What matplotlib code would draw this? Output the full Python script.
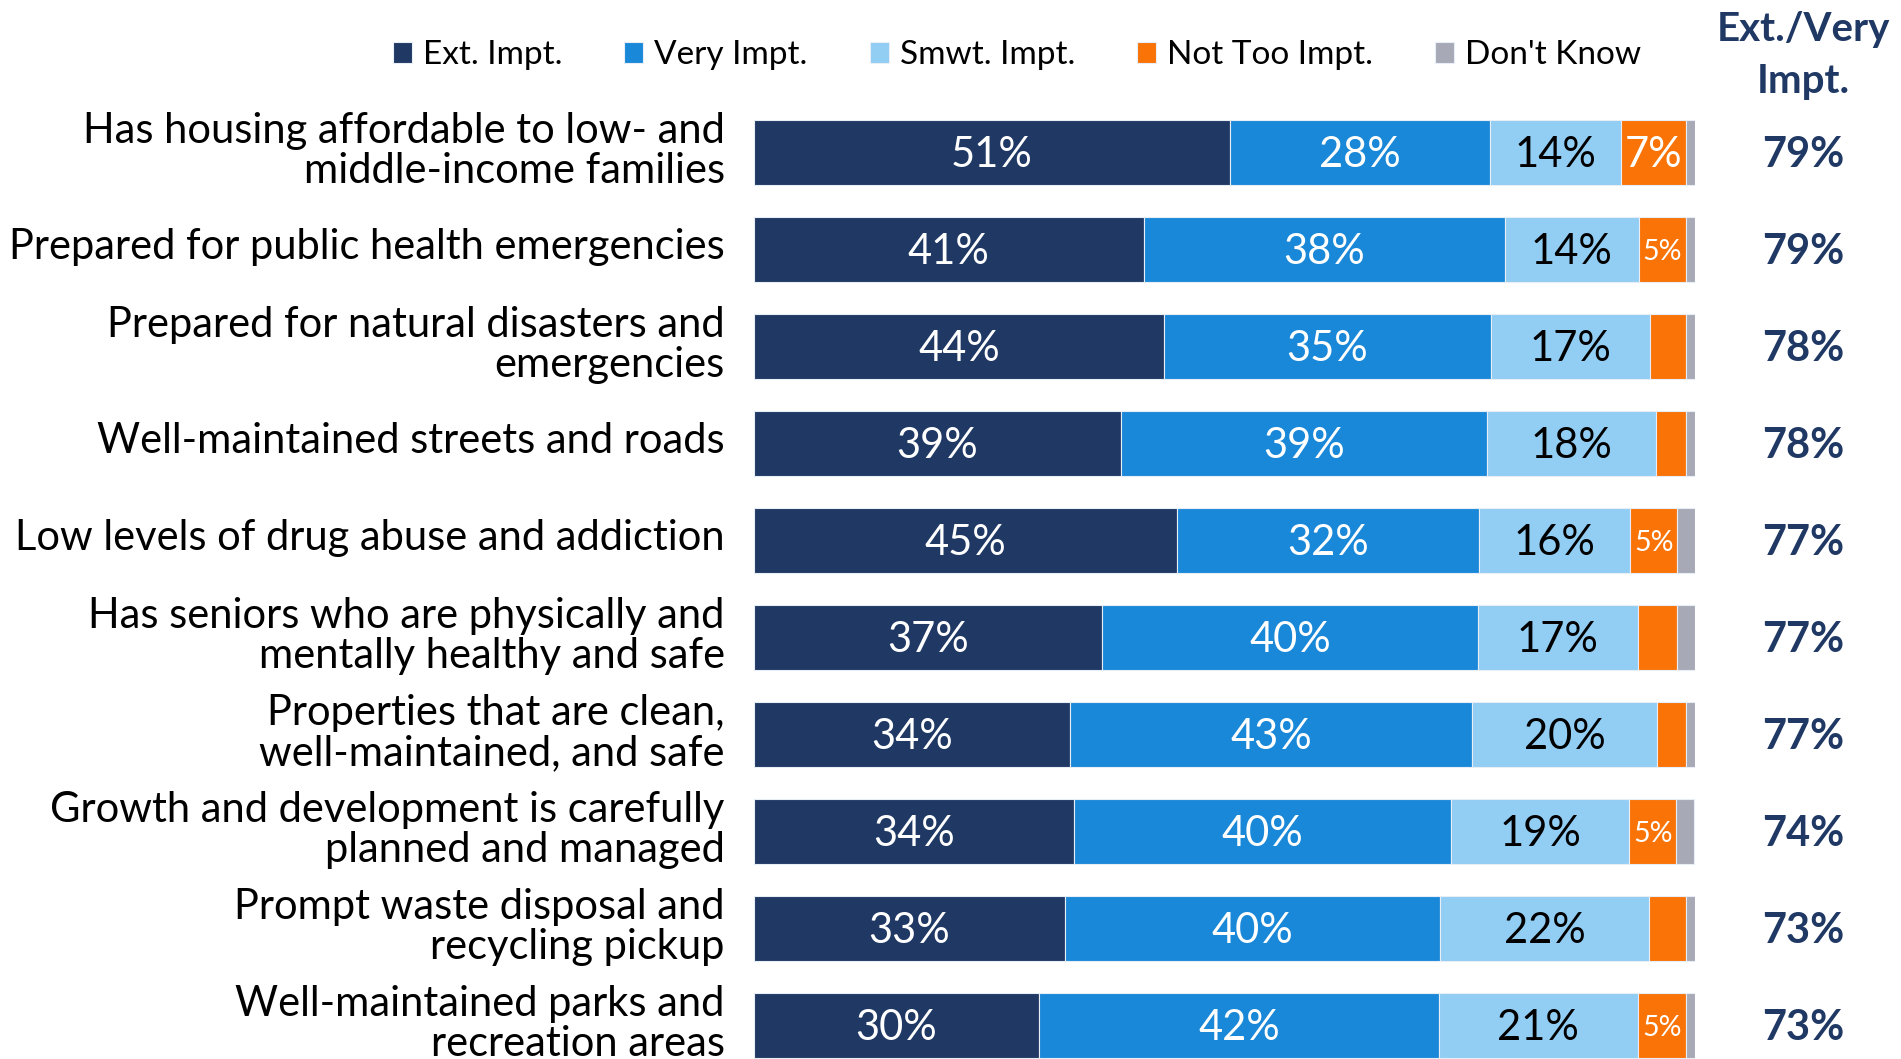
import matplotlib.pyplot as plt
from matplotlib.transforms import ScaledTranslation

plt.rcParams['font.family'] = ['Lato', 'DejaVu Sans']

items = [
    "Has housing affordable to low- and\nmiddle-income families",
    "Prepared for public health emergencies",
    "Prepared for natural disasters and\nemergencies",
    "Well-maintained streets and roads",
    "Low levels of drug abuse and addiction",
    "Has seniors who are physically and\nmentally healthy and safe",
    "Properties that are clean,\nwell-maintained, and safe",
    "Growth and development is carefully\nplanned and managed",
    "Prompt waste disposal and\nrecycling pickup",
    "Well-maintained parks and\nrecreation areas",
]

ext_impt = [50.6, 41.4, 43.6, 39.0, 45.0, 37.0, 33.6, 34.0, 33.0, 30.3]
very_impt = [27.6, 38.4, 34.7, 38.9, 32.0, 39.9, 42.7, 40.1, 39.9, 42.5]
smwt_impt = [13.9, 14.2, 16.9, 18.0, 16.1, 17.0, 19.7, 18.9, 22.2, 21.1]
not_too = [6.9, 5.0, 3.8, 3.1, 5.0, 4.2, 3.0, 5.0, 3.9, 5.1]
dont_know = [1.0, 1.0, 1.0, 1.0, 1.9, 1.9, 1.0, 1.9, 1.0, 1.0]

ext_very = [79, 79, 78, 78, 77, 77, 77, 74, 73, 73]

series = [
    ("Ext. Impt.", ext_impt, "#1f3864", "white"),
    ("Very Impt.", very_impt, "#1a88d8", "white"),
    ("Smwt. Impt.", smwt_impt, "#92cdf3", "black"),
    ("Not Too Impt.", not_too, "#f97306", "white"),
    ("Don't Know", dont_know, "#a7a9b7", "white"),
]

NAVY = "#1f3864"

fig = plt.figure(figsize=(19.01, 10.59), dpi=100)
ax = fig.add_axes([754 / 1901, 0, 941 / 1901, 1])

rows = list(range(len(items)))
left = [0.0] * len(items)
handles = []
for name, vals, color, txt_color in series:
    bars = ax.barh(rows, vals, left=left, height=0.67, color=color,
                   edgecolor="#e8eef5", linewidth=0.8, label=name)
    handles.append(bars)
    for r, v, l in zip(rows, vals, left):
        if round(v) >= 5 and name != "Don't Know":
            small = round(v) <= 5
            ax.text(l + v / 2, r + 0.02, f"{round(v)}%", ha="center", va="center",
                    color=txt_color, fontsize=20.5 if small else 30)
    left = [l + v for l, v in zip(left, vals)]

ax.set_xlim(0, 100)
ax.set_ylim(9.342, -1.575)
ax.set_yticks(rows)
ax.set_yticklabels(items, fontsize=30, linespacing=1.05)
ax.tick_params(axis="y", length=0, pad=21)
ax.tick_params(axis="x", bottom=False, labelbottom=False)
lift = ScaledTranslation(0, 6 / 100, fig.dpi_scale_trans)
for lab in ax.get_yticklabels():
    lab.set_transform(lab.get_transform() + lift)
for s in ax.spines.values():
    s.set_visible(False)

# Ext./Very column on the right
for r, v in zip(rows, ext_very):
    ax.text(111.5, r + 0.02, f"{v}%", ha="center", va="center", color=NAVY,
            fontsize=30, fontweight="bold", clip_on=False)
ax.text(111.5, -1.27, "Ext./Very", ha="center", va="center", color=NAVY,
        fontsize=29, fontweight="bold", clip_on=False)
ax.text(111.5, -0.73, "Impt.", ha="center", va="center", color=NAVY,
        fontsize=29, fontweight="bold", clip_on=False)

fig.legend(handles=handles, loc="center", bbox_to_anchor=(1017 / 1901, 1 - 55 / 1059),
           ncol=5, frameon=False, fontsize=24, handlelength=0.58, handleheight=0.58,
           handletextpad=0.33, columnspacing=1.85, borderaxespad=0)

fig.savefig("out.png", dpi=100)
